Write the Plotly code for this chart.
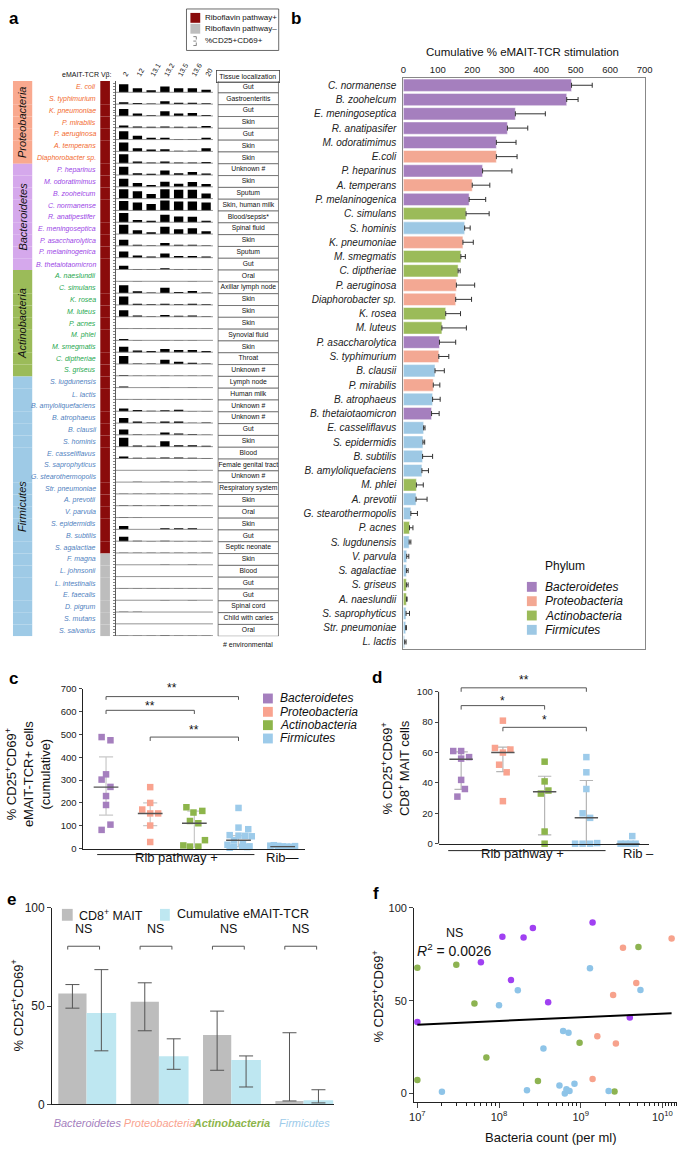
import math
import plotly.graph_objects as go

W, H = 685, 1151
FONT = "Liberation Sans, Arial, Helvetica, sans-serif"


def X(px):
    return px / W


def Y(py):
    return 1 - py / H


# ======================= DATA =======================
# ---------- panel a ----------
a_species = [
    "E. coli", "S. typhimurium", "K. pneumoniae", "P. mirabilis", "P. aeruginosa",
    "A. temperans", "Diaphorobacter sp.",
    "P. heparinus", "M. odoratimimus", "B. zoohelcum", "C. normanense", "R. anatipestifer",
    "E. meningoseptica", "P. asaccharolytica", "P. melaninogenica", "B. thetaiotaomicron",
    "A. naeslundii", "C. simulans", "K. rosea", "M. luteus", "P. acnes", "M. phlei",
    "M. smegmatis", "C. diptheriae", "S. griseus",
    "S. lugdunensis", "L. lactis", "B. amyloliquefaciens", "B. atrophaeus", "B. clausii",
    "S. hominis", "E. casseliflavus", "S. saprophyticus", "G. stearothermopolis",
    "Str. pneumoniae", "A. prevotii", "V. parvula", "S. epidermidis", "B. subtilis",
    "S. agalactiae", "F. magna", "L. johnsonii", "L. intestinalis", "E. faecalis",
    "D. pigrum", "S. mutans", "S. salvarius",
]
a_phylum_order = ["Proteobacteria", "Bacteroidetes", "Actinobacteria", "Firmicutes"]
a_phylum_counts = [7, 9, 9, 22]
a_rib_plus_count = 40
vb_labels = ["2", "12", "13.1", "13.2", "13.5", "13.6", "20"]
a_tissue = [
    "Gut", "Gastroenteritis", "Gut", "Skin", "Gut", "Skin", "Skin",
    "Unknown #", "Skin", "Sputum", "Skin, human milk", "Blood/sepsis*", "Spinal fluid",
    "Skin", "Sputum", "Gut",
    "Oral", "Axillar lymph node", "Skin", "Skin", "Skin", "Synovial fluid", "Skin",
    "Throat", "Unknown #",
    "Lymph node", "Human milk", "Unknown #", "Unknown #", "Gut", "Skin", "Blood",
    "Female genital tract", "Unknown #", "Respiratory system", "Skin", "Oral", "Skin",
    "Gut", "Septic neonate", "Skin", "Blood", "Gut", "Gut", "Spinal cord",
    "Child with caries", "Oral",
]
a_activation = [
    [83, 40, 20, 60, 40, 40, 27],
    [18, 12, 6, 28, 15, 15, 10],
    [70, 25, 8, 48, 25, 30, 10],
    [22, 12, 10, 12, 10, 10, 18],
    [85, 38, 18, 18, 6, 6, 18],
    [90, 32, 18, 22, 6, 6, 32],
    [90, 18, 8, 18, 6, 6, 12],
    [85, 18, 12, 45, 18, 30, 15],
    [82, 38, 18, 52, 32, 50, 28],
    [95, 75, 48, 95, 90, 90, 52],
    [95, 80, 65, 100, 92, 92, 80],
    [95, 22, 15, 75, 58, 55, 15],
    [95, 38, 18, 75, 48, 58, 28],
    [62, 12, 6, 28, 12, 12, 6],
    [62, 22, 12, 42, 18, 18, 12],
    [38, 6, 5, 12, 6, 6, 5],
    [4, 2, 1, 2, 1, 2, 1],
    [80, 18, 6, 55, 12, 22, 6],
    [85, 12, 6, 12, 6, 12, 6],
    [65, 12, 6, 18, 10, 12, 6],
    [3, 2, 2, 2, 2, 3, 2],
    [15, 4, 2, 4, 3, 3, 2],
    [55, 18, 12, 32, 22, 22, 12],
    [80, 6, 5, 42, 22, 12, 6],
    [8, 2, 2, 3, 2, 4, 2],
    [12, 2, 2, 3, 2, 4, 2],
    [1, 1, 1, 1, 3, 1, 1],
    [28, 12, 5, 10, 15, 3, 2],
    [52, 15, 5, 15, 15, 2, 6],
    [55, 6, 3, 25, 15, 10, 3],
    [90, 12, 10, 55, 15, 15, 10],
    [20, 8, 8, 10, 10, 8, 6],
    [1, 1, 1, 1, 1, 4, 1],
    [1, 3, 2, 4, 3, 3, 3],
    [1, 1, 1, 1, 1, 1, 1],
    [6, 4, 3, 7, 5, 5, 3],
    [6, 2, 1, 1, 1, 1, 1],
    [35, 2, 2, 12, 12, 12, 2],
    [45, 3, 2, 5, 1, 1, 1],
    [3, 3, 3, 3, 3, 3, 3],
    [1, 1, 1, 3, 1, 3, 1],
    [1, 1, 1, 2, 2, 2, 1],
    [1, 1, 1, 2, 1, 1, 1],
    [1, 1, 1, 2, 1, 2, 1],
    [3, 2, 1, 1, 1, 1, 1],
    [1, 1, 1, 1, 1, 1, 1],
    [1, 1, 1, 3, 1, 1, 1],
]

# ---------- panel b ----------
b_species = [
    "C. normanense", "B. zoohelcum", "E. meningoseptica", "R. anatipasifer",
    "M. odoratimimus", "E.coli", "P. heparinus", "A. temperans", "P. melaninogenica",
    "C. simulans", "S. hominis", "K. pneumoniae", "M. smegmatis", "C. diptheriae",
    "P. aeruginosa", "Diaphorobacter sp.", "K. rosea", "M. luteus", "P. asaccharolytica",
    "S. typhimurium", "B. clausii", "P. mirabilis", "B. atrophaeus", "B. thetaiotaomicron",
    "E. casseliflavus", "S. epidermidis", "B. subtilis", "B. amyloliquefaciens", "M. phlei",
    "A. prevotii", "G. stearothermopolis", "P. acnes", "S. lugdunensis", "V. parvula",
    "S. agalactiae", "S. griseus", "A. naeslundii", "S. saprophyticus", "Str. pneumoniae",
    "L. lactis",
]
b_phylum = [
    "Bacteroidetes", "Bacteroidetes", "Bacteroidetes", "Bacteroidetes", "Bacteroidetes",
    "Proteobacteria", "Bacteroidetes", "Proteobacteria", "Bacteroidetes", "Actinobacteria",
    "Firmicutes", "Proteobacteria", "Actinobacteria", "Actinobacteria", "Proteobacteria",
    "Proteobacteria", "Actinobacteria", "Actinobacteria", "Bacteroidetes", "Proteobacteria",
    "Firmicutes", "Proteobacteria", "Firmicutes", "Bacteroidetes", "Firmicutes",
    "Firmicutes", "Firmicutes", "Firmicutes", "Actinobacteria", "Firmicutes",
    "Firmicutes", "Actinobacteria", "Firmicutes", "Firmicutes", "Firmicutes",
    "Actinobacteria", "Actinobacteria", "Firmicutes", "Firmicutes", "Firmicutes",
]
b_value = [488, 474, 325, 302, 270, 270, 230, 200, 191, 182, 178, 173, 167, 159, 154,
           152, 123, 112, 105, 103, 92, 87, 85, 82, 59, 57, 56, 54, 38, 37, 22, 18, 17,
           10, 9, 9, 9, 8, 7, 4]
b_err = [60, 33, 87, 59, 57, 60, 85, 51, 48, 67, 16, 30, 13, 6, 53, 46, 43, 71, 47, 29,
         27, 19, 22, 22, 4, 5, 29, 19, 20, 32, 19, 10, 5, 6, 5, 5, 2, 10, 2, 4]

# ---------- panel c ----------
c_groups = ["Bacteroidetes", "Proteobacteria", "Actinobacteria", "Firmicutes", "Rib-"]
c_values = [
    [488, 474, 325, 302, 270, 230, 191, 105, 82],
    [269, 200, 171, 154, 154, 101, 29],
    [181, 165, 158, 121, 111, 37, 14, 9, 9],
    [178, 92, 85, 59, 57, 56, 54, 37, 22, 17, 10, 9, 8, 7, 4],
    [15, 12, 10, 9, 8, 11, 13],
]
c_jitter = [
    [-0.1, 0.1, 0, -0.1, 0.1, 0, 0, 0.1, -0.1],
    [0, 0, -0.18, 0, 0.18, 0, 0],
    [-0.18, 0.18, -0.02, -0.1, 0.09, 0.24, -0.25, -0.1, 0.09],
    [0, 0, 0.22, -0.2, 0, 0.15, 0.3, -0.1, 0.1, -0.25, 0.25, -0.1, 0.08, 0.2, -0.2],
    [-0.2, -0.1, 0, 0.1, 0.2, 0.28, -0.28],
]
c_median = [269, 154, 111, 37, 9]
c_low = [147, 101, 6, 9, 7]
c_high = [401, 200, 164, 57, 11]

# ---------- panel d ----------
d_values = [
    [61, 61, 56, 57, 42, 36, 31],
    [81, 63, 62, 60, 52, 47, 28],
    [54, 41, 33, 35, 8, 0],
    [57, 47, 36, 20, 17, 0, 0, 0, 0.4],
    [0, 0, 0, 0, 5],
]
d_jitter = [
    [-0.19, 0, 0, 0.19, 0, 0.09, -0.09],
    [0, -0.19, 0.18, 0, -0.09, 0.09, 0],
    [0, 0, -0.09, 0.09, 0, 0],
    [0, 0, 0, -0.09, 0.09, -0.27, -0.09, 0.09, 0.26],
    [-0.18, -0.06, 0.06, 0.18, 0.1],
]
d_median = [55.6, 60, 34.2, 17.1, 0]
d_low = [35.7, 47.4, 5.8, 0, 0]
d_high = [60.4, 63.6, 44.4, 41.6, 0]

# ---------- panel e ----------
e_groups = ["Bacteroidetes", "Proteobacteria", "Actinobacteria", "Firmicutes"]
e_mait = [56.5, 52.3, 35.3, 1.8]
e_mait_high = [61.0, 61.9, 47.5, 36.5]
e_mait_low = [49.0, 37.5, 17.4, 1.8]
e_emait = [46.5, 24.6, 22.6, 2.2]
e_emait_high = [68.6, 33.4, 24.7, 7.5]
e_emait_low = [27.3, 17.9, 8.9, 0.8]

# ---------- panel f ----------
f_count = {
    "Bacteroidetes": [1.0e7, 6.0e7, 1.4e8, 1.1e8, 2.0e8, 2.6e8, 4.0e8, 1.4e9, 4.0e9],
    "Proteobacteria": [3.3e9, 4.8e9, 2.5e9, 1.3e10, 1.6e9, 2.7e9, 1.4e9],
    "Actinobacteria": [1.0e7, 3.0e7, 5.0e7, 7.0e7, 1.0e7, 3.0e8, 9.7e8, 5.1e9, 2.6e9],
    "Firmicutes": [2.0e7, 1.0e8, 1.7e8, 3.5e8, 2.2e8, 6.1e8, 7.1e8, 5.5e8, 6.4e8, 6.7e8,
                   7.3e8, 8.4e8, 1.3e9, 2.2e9, 5.4e9],
}
f_pct = {
    "Bacteroidetes": [38.5, 70.7, 61.1, 84.5, 84.0, 89.2, 49.2, 92.2, 40.9],
    "Proteobacteria": [78.5, 59.5, 53.1, 83.5, 30.9, 27.0, 7.8],
    "Actinobacteria": [67.7, 69.4, 48.5, 19.4, 7.3, 6.7, 27.4, 78.9, 1.1],
    "Firmicutes": [0.9, 47.6, 55.6, 24.2, 1.8, 33.7, 32.7, 4.4, 0.0, 2.3, 1.4, 5.3,
                   67.5, 1.4, 55.8],
}
f_fit_intercept = 23.17   # % at log10(count) = 0
f_fit_slope = 1.99        # % per decade
f_fit_range = [1.0e7, 1.3e10]

# ======================= STYLES =======================
bar_col = {"Bacteroidetes": "#A57FBE", "Proteobacteria": "#F3A893",
           "Actinobacteria": "#9BBB59", "Firmicutes": "#9DC8E4"}
strip_col = {"Bacteroidetes": "#D5A8EC", "Proteobacteria": "#F9A98F",
             "Actinobacteria": "#9BBB59", "Firmicutes": "#9ECAE6"}
label_col = {"Bacteroidetes": "#9B45E6", "Proteobacteria": "#F26A2E",
             "Actinobacteria": "#1FA84F", "Firmicutes": "#4F7FC0"}
dot_col = {"Bacteroidetes": "#A57FBE", "Proteobacteria": "#F9A38F",
           "Actinobacteria": "#8DB54B", "Firmicutes": "#9DCBEA", "Rib-": "#9DCBEA"}
f_col = {"Bacteroidetes": "#A040F2", "Proteobacteria": "#F7A28C",
         "Actinobacteria": "#8DB351", "Firmicutes": "#8EC4E8"}
RIB_POS = "#8A0B0B"
RIB_NEG = "#BDBDBD"

fig = go.Figure()
shapes = []
annotations = []


def ann(text, px, py, size=10, color="#111", xanchor="center", yanchor="middle",
        style="normal", weight="normal", **kw):
    d = dict(text=text, x=X(px), y=Y(py), xref="paper", yref="paper", showarrow=False,
             xanchor=xanchor, yanchor=yanchor,
             font=dict(family=FONT, size=size, color=color, style=style, weight=weight))
    d.update(kw)
    annotations.append(d)


def axis(**kw):
    base = dict(showgrid=False, zeroline=False, showline=False, ticks="",
                showticklabels=False, fixedrange=True)
    base.update(kw)
    return base


# ======================= PANEL A =======================
ROW = 120
N = len(a_species)
a_phylum = []
for p, c in zip(a_phylum_order, a_phylum_counts):
    a_phylum += [p] * c
row_base = [(N - 1 - i) * ROW for i in range(N)]
row_mid = [b + ROW / 2 for b in row_base]

# mini bars
bx, by, bb = [], [], []
for i, vals in enumerate(a_activation):
    for j, v in enumerate(vals):
        bx.append(j)
        by.append(v)
        bb.append(row_base[i] + 6)
fig.add_trace(go.Bar(x=bx, y=by, base=bb, width=0.68, marker=dict(color="black", line=dict(width=0)),
                     xaxis="x", yaxis="y", showlegend=False, hoverinfo="skip"))
for i in range(N):
    shapes.append(dict(type="line", xref="x", yref="y", x0=-0.57, x1=6.5,
                       y0=row_base[i] + 6, y1=row_base[i] + 6, line=dict(color="#777", width=0.8)))

# riboflavin bar
rib_pos_idx = list(range(a_rib_plus_count))
rib_neg_idx = list(range(a_rib_plus_count, N))
for idx, col in ((rib_pos_idx, RIB_POS), (rib_neg_idx, RIB_NEG)):
    fig.add_trace(go.Bar(orientation="h", x=[1] * len(idx), y=[row_mid[i] for i in idx],
                         width=ROW, marker=dict(color=col, line=dict(width=0)),
                         xaxis="x2", yaxis="y", showlegend=False, hoverinfo="skip"))

# phylum strip
fig.add_trace(go.Bar(orientation="h", x=[1] * N, y=row_mid, width=ROW,
                     marker=dict(color=[strip_col[p] for p in a_phylum], line=dict(width=0)),
                     xaxis="x3", yaxis="y", showlegend=False, hoverinfo="skip"))
start = 0
for p, c in zip(a_phylum_order, a_phylum_counts):
    mids = row_mid[start:start + c]
    annotations.append(dict(text=p, x=0.5, y=sum(mids) / len(mids), xref="x3", yref="y",
                            showarrow=False, textangle=-90,
                            font=dict(family=FONT, size=11, color="#111", style="italic")))
    start += c

# species labels
for i, s in enumerate(a_species):
    annotations.append(dict(text=s, x=X(95), y=row_mid[i], xref="paper", yref="y",
                            xanchor="right", showarrow=False,
                            font=dict(family=FONT, size=7, color=label_col[a_phylum[i]],
                                      style="italic")))

# tissue table
fig.add_trace(go.Bar(orientation="h", x=[1] * N, y=row_mid, width=ROW,
                     marker=dict(color="white", line=dict(color="#555", width=0.7)),
                     xaxis="x4", yaxis="y", showlegend=False, hoverinfo="skip"))
fig.add_trace(go.Scatter(x=[0.5] * N, y=row_mid, mode="text", text=a_tissue,
                         textfont=dict(family=FONT, size=6.8, color="#111"),
                         xaxis="x4", yaxis="y", showlegend=False, hoverinfo="skip"))
ann("Tissue localization", 248, 70, size=7, bordercolor="#444", borderwidth=0.8,
    borderpad=1, width=60, height=9)
ann("# environmental", 248, 645, size=7)
ann("eMAIT-TCR Vβ:", 111, 69, size=7, xanchor="right")

# panel a legend
shapes.append(dict(type="rect", xref="paper", yref="paper", x0=X(185), x1=X(279),
                   y0=Y(44), y1=Y(2), line=dict(color="#444", width=0.8)))
shapes.append(dict(type="rect", xref="paper", yref="paper", x0=X(189), x1=X(199),
                   y0=Y(16), y1=Y(6), line=dict(width=0), fillcolor=RIB_POS))
shapes.append(dict(type="rect", xref="paper", yref="paper", x0=X(189), x1=X(199),
                   y0=Y(27), y1=Y(17), line=dict(width=0), fillcolor=RIB_NEG))
shapes.append(dict(type="line", xref="paper", yref="paper", x0=X(195), x1=X(195),
                   y0=Y(39), y1=Y(30), line=dict(color="#666", width=0.8, dash="dot")))
for tp in (30, 34.5, 39):
    shapes.append(dict(type="line", xref="paper", yref="paper", x0=X(192), x1=X(195),
                       y0=Y(tp), y1=Y(tp), line=dict(color="#666", width=0.8)))
ann("Riboflavin pathway+", 202, 11, size=8, xanchor="left")
ann("Riboflavin pathway–", 202, 22, size=8, xanchor="left")
ann("%CD25+CD69+", 202, 34, size=8, xanchor="left")

# ======================= PANEL B =======================
for p in ["Bacteroidetes", "Proteobacteria", "Actinobacteria", "Firmicutes"]:
    idx = [k for k, ph in enumerate(b_phylum) if ph == p]
    fig.add_trace(go.Bar(
        orientation="h", y=[b_species[k] for k in idx], x=[b_value[k] for k in idx],
        width=0.86, marker=dict(color=bar_col[p], line=dict(color="white", width=0.5)),
        error_x=dict(type="data", symmetric=False, array=[b_err[k] for k in idx],
                     arrayminus=[0] * len(idx), color="#333", thickness=1, width=2.5),
        xaxis="x5", yaxis="y5", showlegend=False, hoverinfo="skip"))
ann("Cumulative % eMAIT-TCR stimulation", 528, 46, size=11.5)
ann("Phylum", 548, 566, size=12, xanchor="left")
for k, p in enumerate(["Bacteroidetes", "Proteobacteria", "Actinobacteria", "Firmicutes"]):
    yc = 587 + k * 14.5
    shapes.append(dict(type="rect", xref="paper", yref="paper", x0=X(532), x1=X(542),
                       y0=Y(yc + 5), y1=Y(yc - 5), line=dict(width=0), fillcolor=bar_col[p]))
    ann(p, 548, yc, size=12, xanchor="left", style="italic")


# ======================= PANEL C / D (dot plots) =======================
def dotplot(xa, ya, values, jitter, med, lo, hi, cap_col, med_col):
    wx, wy = [], []
    for g in range(len(values)):
        if hi[g] > lo[g]:
            wx += [g, g, None, g - 0.16, g + 0.16, None, g - 0.16, g + 0.16, None]
            wy += [lo[g], hi[g], None, lo[g], lo[g], None, hi[g], hi[g], None]
    fig.add_trace(go.Scatter(x=wx, y=wy, mode="lines", line=dict(color=cap_col, width=1.2),
                             xaxis=xa, yaxis=ya, showlegend=False, hoverinfo="skip"))
    for g, grp in enumerate(c_groups):
        fig.add_trace(go.Scatter(
            x=[g + j for j in jitter[g]], y=values[g], mode="markers",
            marker=dict(symbol="square", size=6.5, color=dot_col[grp]), cliponaxis=False,
            xaxis=xa, yaxis=ya, showlegend=False, hoverinfo="skip"))
    mx, my = [], []
    for g in range(len(values)):
        mx += [g - 0.28, g + 0.28, None]
        my += [med[g], med[g], None]
    fig.add_trace(go.Scatter(x=mx, y=my, mode="lines", line=dict(color=med_col, width=1.4),
                             xaxis=xa, yaxis=ya, showlegend=False, hoverinfo="skip"))


dotplot("x6", "y6", c_values, c_jitter, c_median, c_low, c_high, "#C8C8C8", "#555")
dotplot("x7", "y7", d_values, d_jitter, d_median, d_low, d_high, "#B5B5B5", "#555")


def bracket(xr, yr, g0, g1, ytop, ybot):
    shapes.append(dict(type="path", xref=xr, yref=yr,
                       path=f"M {g0},{ybot} L {g0},{ytop} L {g1},{ytop} L {g1},{ybot}",
                       line=dict(color="#555", width=1)))


c_brackets = [(0, 3, 665, 651, "**", 689), (0, 2, 605, 589, "**", 708), (1, 3, 488, 471, "**", 732)]
for g0, g1, yt, yb, lab, ly in c_brackets:
    bracket("x6", "y6", g0, g1, yt, yb)
    annotations.append(dict(text=lab, x=(g0 + g1) / 2, y=Y(ly), xref="x6", yref="paper",
                            showarrow=False, font=dict(family=FONT, size=12, color="#111")))
d_brackets = [(0, 3, 102.6, 100, "**", 681), (0, 2, 90.9, 88.3, "*", 703), (1, 3, 76.6, 74, "*", 722)]
for g0, g1, yt, yb, lab, ly in d_brackets:
    bracket("x7", "y7", g0, g1, yt, yb)
    annotations.append(dict(text=lab, x=(g0 + g1) / 2, y=Y(ly), xref="x7", yref="paper",
                            showarrow=False, font=dict(family=FONT, size=12, color="#111")))

# d y-axis line 0..100
shapes.append(dict(type="line", xref="x7 domain", yref="y7", x0=0, x1=0, y0=0, y1=100,
                   line=dict(color="#222", width=1)))

# Rib pathway labels
shapes.append(dict(type="line", xref="x6", yref="paper", x0=-0.2, x1=3.36, y0=Y(858), y1=Y(858),
                   line=dict(color="#222", width=1)))
annotations.append(dict(text="Rib pathway +", x=1.6, y=Y(871), xref="x6", yref="paper",
                        showarrow=False, font=dict(family=FONT, size=13, color="#111")))
annotations.append(dict(text="Rib—", x=4.0, y=Y(871), xref="x6", yref="paper",
                        showarrow=False, font=dict(family=FONT, size=13, color="#111")))
shapes.append(dict(type="line", xref="x7", yref="paper", x0=-0.31, x1=3.46, y0=Y(854), y1=Y(854),
                   line=dict(color="#222", width=1)))
annotations.append(dict(text="Rib pathway +", x=1.48, y=Y(867), xref="x7", yref="paper",
                        showarrow=False, font=dict(family=FONT, size=13, color="#111")))
annotations.append(dict(text="Rib –", x=4.24, y=Y(867), xref="x7", yref="paper",
                        showarrow=False, font=dict(family=FONT, size=13, color="#111")))

# c legend
for k, p in enumerate(["Bacteroidetes", "Proteobacteria", "Actinobacteria", "Firmicutes"]):
    yc = 700 + k * 13.5
    shapes.append(dict(type="rect", xref="paper", yref="paper", x0=X(263), x1=X(273),
                       y0=Y(yc + 5), y1=Y(yc - 5), line=dict(width=0), fillcolor=dot_col[p]))
    ann(p, 278, yc, size=12, xanchor="left", style="italic")

ann("% CD25<sup>+</sup>CD69<sup>+</sup><br>eMAIT-TCR+ cells<br>(cumulative)", 23, 777,
    size=13, textangle=-90)
ann("% CD25<sup>+</sup>CD69<sup>+</sup><br>CD8<sup>+</sup> MAIT cells", 398, 770,
    size=13, textangle=-90)

# ======================= PANEL E =======================
ex = list(range(len(e_groups)))
fig.add_trace(go.Bar(
    x=ex, y=e_mait, offset=-0.4, width=0.39, marker=dict(color="#BDBDBD", line=dict(width=0)),
    error_y=dict(type="data", symmetric=False,
                 array=[h - v for h, v in zip(e_mait_high, e_mait)],
                 arrayminus=[v - l for v, l in zip(e_mait, e_mait_low)],
                 color="#555", thickness=1, width=7),
    xaxis="x8", yaxis="y8", showlegend=False, hoverinfo="skip"))
fig.add_trace(go.Bar(
    x=ex, y=e_emait, offset=-0.01, width=0.41, marker=dict(color="#BEE7F1", line=dict(width=0)),
    error_y=dict(type="data", symmetric=False,
                 array=[h - v for h, v in zip(e_emait_high, e_emait)],
                 arrayminus=[v - l for v, l in zip(e_emait, e_emait_low)],
                 color="#555", thickness=1, width=7),
    xaxis="x8", yaxis="y8", showlegend=False, hoverinfo="skip"))
for g in ex:
    bracket("x8", "y8", g - 0.27, g + 0.17, 80.5, 78.8)
    annotations.append(dict(text="NS", x=g - 0.05, y=Y(942), xref="x8", yref="paper",
                            showarrow=False, font=dict(family=FONT, size=12.5, color="#111")))
shapes.append(dict(type="rect", xref="paper", yref="paper", x0=X(58), x1=X(69),
                   y0=Y(925), y1=Y(913), line=dict(width=0), fillcolor="#BDBDBD"))
ann("CD8<sup>+</sup> MAIT", 73, 919, size=12.5, xanchor="left")
shapes.append(dict(type="rect", xref="paper", yref="paper", x0=X(158), x1=X(168),
                   y0=Y(925), y1=Y(913), line=dict(width=0), fillcolor="#BEE7F1"))
ann("Cumulative eMAIT-TCR", 173, 918, size=12.5, xanchor="left")
ann("% CD25<sup>+</sup>CD69<sup>+</sup>", 12, 1011, size=13, textangle=-90)
e_tick_col = ["#A57FBE", "#F9A38F", "#8DB54B", "#9DCBEA"]
e_ticktext = []
for g, c in zip(e_groups, e_tick_col):
    t = f"<span style='color:{c}'><i>{g}</i></span>"
    if g == "Actinobacteria":
        t = f"<span style='color:{c}'><b><i>{g}</i></b></span>"
    e_ticktext.append(t)

# ======================= PANEL F =======================
for p in ["Bacteroidetes", "Proteobacteria", "Actinobacteria", "Firmicutes"]:
    fig.add_trace(go.Scatter(x=f_count[p], y=f_pct[p], mode="markers",
                             marker=dict(size=6.5, color=f_col[p]), cliponaxis=False,
                             xaxis="x9", yaxis="y9", showlegend=False, hoverinfo="skip"))
fit_y = [f_fit_intercept + f_fit_slope * math.log10(v) for v in f_fit_range]
fig.add_trace(go.Scatter(x=f_fit_range, y=fit_y, mode="lines", line=dict(color="black", width=2),
                         xaxis="x9", yaxis="y9", showlegend=False, hoverinfo="skip"))
ann("NS", 458, 937, size=12.5)
ann("<i>R</i><sup>2</sup> = 0.0026", 458, 955, size=14)
ann("Bacteria count (per ml)", 557, 1144, size=13)
ann("% CD25<sup>+</sup>CD69<sup>+</sup>", 380, 1002, size=13, textangle=-90)

# ======================= PANEL LETTERS =======================
for lab, px, py in (("a", 9, 12), ("b", 297, 12), ("c", 9, 680), ("d", 379, 679),
                    ("e", 7, 903), ("f", 378, 897)):
    ann(lab, px, py, size=17, weight="bold", color="black")

# ======================= LAYOUT =======================
minor_ticks = [b + f * ROW for b in row_base for f in (0.05, 0.3, 0.55, 0.8)]
tick_font = dict(family=FONT, size=9.5, color="#222")
f_minor = [k * 10 ** e for e in (7, 8, 9) for k in range(2, 10)] + [1.1e10, 1.2e10, 1.3e10, 1.4e10, 1.5e10]

fig.update_layout(
    width=W, height=H, margin=dict(l=0, r=0, t=0, b=0),
    paper_bgcolor="white", plot_bgcolor="white", barmode="overlay", showlegend=False,
    font=dict(family=FONT, size=10, color="#111"),
    shapes=shapes, annotations=annotations,
    # panel a
    xaxis=axis(domain=[X(113), X(212)], range=[-0.57, 6.5], anchor="y", side="top",
               tickvals=list(range(7)), ticktext=vb_labels, showticklabels=True, tickangle=-60,
               tickfont=dict(family=FONT, size=7, color="#111")),
    yaxis=axis(domain=[Y(637), Y(75)], range=[0, N * ROW], anchor="x", showline=True,
               linecolor="#333", linewidth=0.8, tickvals=minor_ticks, ticks="outside",
               ticklen=2, tickwidth=0.6, tickcolor="#333"),
    xaxis2=axis(domain=[X(97), X(107)], range=[0, 1], anchor="y", visible=False),
    xaxis3=axis(domain=[X(8), X(28)], range=[0, 1], anchor="y", visible=False),
    xaxis4=axis(domain=[X(216), X(280)], range=[-0.02, 1.02], anchor="y", visible=False),
    # panel b
    xaxis5=axis(domain=[X(406), X(652)], range=[0, 700], anchor="y5", side="top",
                tickvals=list(range(0, 701, 100)), showticklabels=True, tickfont=tick_font,
                ticks="", showline=True, mirror=True, linecolor="#888", linewidth=1),
    yaxis5=axis(domain=[Y(650), Y(72)], type="category", categoryorder="array",
                categoryarray=b_species, range=[len(b_species) - 0.5, -0.5], anchor="x5",
                showticklabels=True, ticks="outside", ticklen=4, tickcolor="rgba(0,0,0,0)",
                tickfont=dict(family=FONT, size=10, color="#222", style="italic"),
                showline=True, mirror=True, linecolor="#888", linewidth=1),
    # panel c
    xaxis6=axis(domain=[X(79), X(306)], range=[-0.533, 4.51], anchor="y6", showline=True,
                linecolor="#222", linewidth=1),
    yaxis6=axis(domain=[Y(852), Y(690)], range=[0, 700], anchor="x6", showline=True,
                linecolor="#222", linewidth=1, tickvals=list(range(0, 701, 100)),
                showticklabels=True, ticks="outside", ticklen=3, tickfont=tick_font),
    # panel d
    xaxis7=axis(domain=[X(442), X(656)], range=[-0.54, 4.49], anchor="y7", showline=True,
                linecolor="#222", linewidth=1),
    yaxis7=axis(domain=[Y(847), Y(684)], range=[0, 106], anchor="x7",
                tickvals=list(range(0, 101, 20)), showticklabels=True, ticks="outside",
                ticklen=3, tickfont=tick_font),
    # panel e
    xaxis8=axis(domain=[X(48), X(335)], range=[-0.486, 3.405], anchor="y8", showline=True,
                linecolor="#222", linewidth=1, tickvals=ex, ticktext=e_ticktext,
                showticklabels=True, ticks="outside", ticklen=8, tickcolor="rgba(0,0,0,0)",
                tickangle=0, tickfont=dict(family=FONT, size=11)),
    yaxis8=axis(domain=[Y(1111), Y(912)], range=[0, 100], anchor="x8", showline=True,
                linecolor="#222", linewidth=1, tickvals=[0, 50, 100], showticklabels=True,
                ticks="outside", ticklen=4, tickfont=dict(family=FONT, size=12, color="#222")),
    # panel f
    xaxis9=axis(domain=[X(417), 1.0], type="log", range=[6.96, 10.18], anchor="y9",
                showline=True, linecolor="#222", linewidth=1,
                tickvals=[1e7, 1e8, 1e9, 1e10],
                ticktext=["10<sup>7</sup>", "10<sup>8</sup>", "10<sup>9</sup>", "10<sup>10</sup>"],
                showticklabels=True, ticks="outside", ticklen=5,
                minor=dict(tickvals=f_minor, ticks="outside", ticklen=3, tickcolor="#222"),
                tickfont=dict(family=FONT, size=11, color="#222")),
    yaxis9=axis(domain=[Y(1108), Y(912)], range=[-4.3, 100], anchor="x9", showline=True,
                linecolor="#222", linewidth=1, tickvals=[0, 50, 100], showticklabels=True,
                ticks="outside", ticklen=4, tickfont=dict(family=FONT, size=11, color="#222")),
)

fig.write_html(
    "out.html",
    config={"displayModeBar": False, "staticPlot": True},
    post_script=("document.documentElement.style.margin='0';"
                 "document.body.style.margin='0';"
                 "document.documentElement.style.overflow='hidden';"
                 "document.body.style.overflow='hidden';"),
)
